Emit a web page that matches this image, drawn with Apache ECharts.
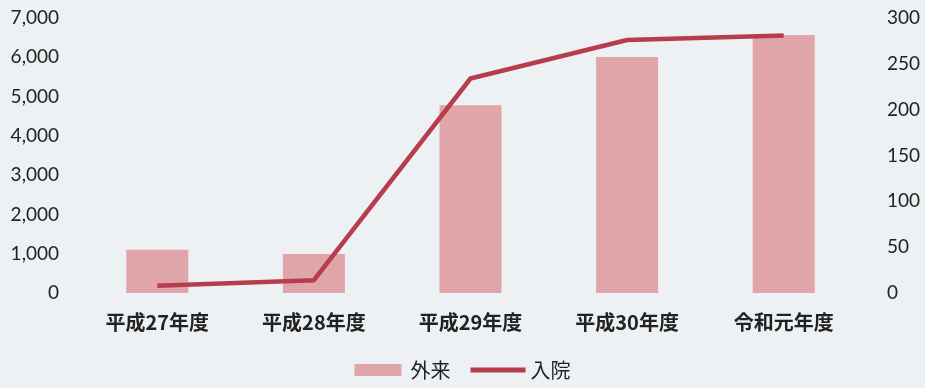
<!DOCTYPE html>
<html>
<head>
<meta charset="utf-8">
<script src="https://cdn.jsdelivr.net/npm/echarts@6/dist/echarts.min.js"></script>
<style>
  html, body { margin: 0; padding: 0; background: #eef1f3; }
  #chart { width: 925px; height: 388px; }
</style>
</head>
<body>
<div id="chart"></div>
<script>
// Fiscal years
const categories = ['平成27年度', '平成28年度', '平成29年度', '平成30年度', '令和元年度'];
// Outpatients (left axis)
const outpatient = [1100, 990, 4780, 6010, 6570];
// Inpatients (right axis)
const inpatient = [8, 14, 234, 276, 281];
const leftTicks = { min: 0, max: 7000, interval: 1000 };
const rightTicks = { min: 0, max: 300, interval: 50 };

const chart = echarts.init(document.getElementById('chart'));
const cjk = '"Noto Sans CJK JP", "Noto Sans", sans-serif';
const num = 'Lato, "Open Sans", sans-serif';

chart.setOption({
  backgroundColor: '#eef1f3',
  animation: false,
  textStyle: { fontFamily: cjk },
  grid: { left: 79, right: 63, top: 18, bottom: 95 },
  legend: {
    bottom: 3,
    left: 'center',
    itemGap: 20,
    itemWidth: 55,
    itemHeight: 12,
    textStyle: { fontSize: 20, color: '#222', fontFamily: cjk },
    data: [
      { name: '外来', icon: 'path://M0,0H47V12H0Z', itemStyle: { color: '#dfa5a8' } },
      { name: '入院', icon: 'path://M0,0H55V5H0Z', itemStyle: { color: '#b63c4e' } }
    ]
  },
  xAxis: {
    type: 'category',
    data: categories,
    axisLine: { show: false },
    axisTick: { show: false },
    axisLabel: { fontSize: 20, fontWeight: 'bold', color: '#222', margin: 19, fontFamily: cjk }
  },
  yAxis: [
    {
      type: 'value',
      min: leftTicks.min, max: leftTicks.max, interval: leftTicks.interval,
      splitLine: { show: false },
      axisLine: { show: false },
      axisTick: { show: false },
      axisLabel: {
        fontSize: 19, color: '#222', margin: 20, fontFamily: num,
        formatter: v => v.toLocaleString('en-US')
      }
    },
    {
      type: 'value',
      min: rightTicks.min, max: rightTicks.max, interval: rightTicks.interval,
      splitLine: { show: false },
      axisLine: { show: false },
      axisTick: { show: false },
      axisLabel: { fontSize: 19, color: '#222', margin: 25, fontFamily: num }
    }
  ],
  series: [
    {
      name: '外来',
      type: 'bar',
      yAxisIndex: 0,
      data: outpatient,
      barWidth: 62,
      itemStyle: { color: '#dfa5a8' }
    },
    {
      name: '入院',
      type: 'line',
      yAxisIndex: 1,
      data: inpatient,
      symbol: 'none',
      lineStyle: { width: 4.5, color: '#b63c4e' },
      itemStyle: { color: '#b63c4e' }
    }
  ]
});
</script>
</body>
</html>
